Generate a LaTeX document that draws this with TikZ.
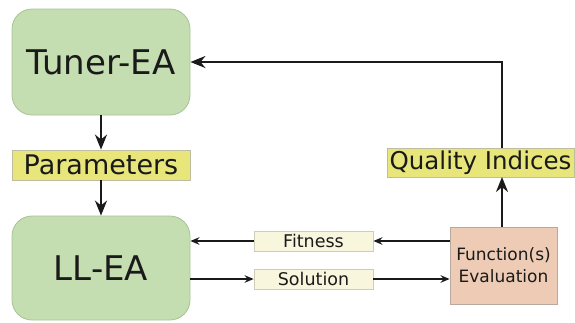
\documentclass[tikz,border=0pt]{standalone}
\usepackage{fontspec}
\setmainfont{DejaVu Sans}
\usetikzlibrary{arrows.meta}
\definecolor{eagreen}{HTML}{C4DDB1}
\definecolor{eagreenline}{HTML}{A6C496}
\definecolor{labyellow}{HTML}{E8E67A}
\definecolor{labyellowline}{HTML}{BEBDA0}
\definecolor{labcream}{HTML}{F8F7DE}
\definecolor{labcreamline}{HTML}{CFCDB8}
\definecolor{evalpeach}{HTML}{EDCBB5}
\definecolor{evalpeachline}{HTML}{B8A89E}
\definecolor{ink}{HTML}{1A1A1A}
\tikzset{
  eabox/.style={draw=eagreenline, fill=eagreen, rounded corners=20pt, line width=0.8pt,
    minimum width=178pt, inner sep=0pt, font=\fontsize{34}{40}\selectfont, text=ink},
  bigtag/.style={draw=labyellowline, fill=labyellow, line width=0.8pt, inner sep=0pt, text=ink},
  smalltag/.style={draw=labcreamline, fill=labcream, line width=0.8pt, inner sep=0pt,
    minimum width=119pt, font=\fontsize{17.5}{20}\selectfont, text=ink},
  evalbox/.style={draw=evalpeachline, fill=evalpeach, line width=0.8pt, inner sep=0pt,
    minimum width=107pt, minimum height=77pt, align=center,
    font=\fontsize{17}{22}\selectfont, text=ink},
  heavyflow/.style={draw=ink, line width=2.4pt, -{Stealth[length=15pt,width=12pt]}},
  lightflow/.style={draw=ink, line width=1.7pt, -{Stealth[length=9pt,width=7.5pt]}},
}
\begin{document}
\begin{tikzpicture}[x=1pt, y=-1pt]
  \useasboundingbox (0,0) rectangle (575,322);
  % main algorithm boxes
  \node[eabox, minimum height=106pt] (tuner) at (101,62) {Tuner-EA};
  \node[eabox, minimum height=104pt] (ll) at (101,268) {LL-EA};
  % labels on the data flow
  \node[bigtag, minimum width=178pt, minimum height=30pt, font=\fontsize{27}{30}\selectfont] (params) at (101,165) {Parameters};
  \node[bigtag, minimum width=187pt, minimum height=29pt, font=\fontsize{24.5}{28}\selectfont] (quality) at (480.5,162.5) {Quality Indices};
  \node[smalltag, minimum height=20pt] (fit) at (313.5,241) {Fitness};
  \node[smalltag, minimum height=20pt] (sol) at (313.5,279) {Solution};
  \node[evalbox] (eval) at (503.5,265.5) {Function(s)\\Evaluation};
  % coordinates where the feedback line turns
  \coordinate (qtop) at (502,148);
  \coordinate (qbot) at (502,177);
  \coordinate (corner) at (502,62);
  % tuning loop
  \draw[heavyflow] (tuner.south) -- (params.north);
  \draw[heavyflow] (params.south) -- (ll.north);
  \draw[heavyflow] (eval.north -| qbot) -- (qbot);
  \draw[heavyflow] (qtop) -- (corner) -- (tuner.east);
  % inner loop between LL-EA and evaluation
  \draw[lightflow] (eval.west |- fit.east) -- (fit.east);
  \draw[lightflow] (fit.west) -- (ll.east |- fit.west);
  \draw[lightflow] (ll.east |- sol.west) -- (sol.west);
  \draw[lightflow] (sol.east) -- (eval.west |- sol.east);
\end{tikzpicture}
\end{document}
